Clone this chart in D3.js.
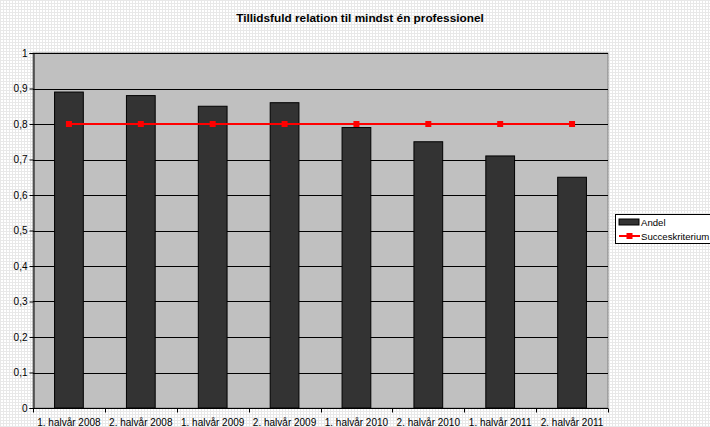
<!DOCTYPE html>
<html><head><meta charset="utf-8">
<script src="https://cdn.jsdelivr.net/npm/d3@7"></script>
<style>body{margin:0;background:#fff}svg{display:block}text{font-family:"Liberation Sans",Arial,sans-serif}</style>
</head><body>
<script>
const categories = ["1. halvår 2008","2. halvår 2008","1. halvår 2009","2. halvår 2009","1. halvår 2010","2. halvår 2010","1. halvår 2011","2. halvår 2011"];
const andel = [0.89,0.88,0.85,0.86,0.79,0.75,0.71,0.65];
const succes = [0.8,0.8,0.8,0.8,0.8,0.8,0.8,0.8];
const yTicks = [0,0.1,0.2,0.3,0.4,0.5,0.6,0.7,0.8,0.9,1];
const yTickLabels = ["0","0,1","0,2","0,3","0,4","0,5","0,6","0,7","0,8","0,9","1"];
const seriesNames = ["Andel","Succeskriterium"];
const title = "Tillidsfuld relation til mindst én professionel";

const W=710,H=427;
const svg=d3.select("body").append("svg").attr("width",W).attr("height",H);
const defs=svg.append("defs");
const pat=defs.append("pattern").attr("id","bg").attr("width",3).attr("height",3).attr("patternUnits","userSpaceOnUse");
pat.append("rect").attr("width",3).attr("height",3).attr("fill","#ffffff");
pat.append("rect").attr("width",3).attr("height",1).attr("fill","#e8e8e8");
pat.append("rect").attr("width",1).attr("height",3).attr("fill","#e8e8e8");
svg.append("rect").attr("width",W).attr("height",H).attr("fill","url(#bg)");

const m={l:33,r:608,t:53,b:408};
const x=d3.scaleBand().domain(categories).range([m.l,m.r]).paddingInner(0.6).paddingOuter(0.3);
const y=d3.scaleLinear().domain([0,1]).range([m.b,m.t]);

svg.append("rect").attr("x",m.l).attr("y",m.t).attr("width",m.r-m.l).attr("height",m.b-m.t)
  .attr("fill","#c0c0c0").attr("stroke","#808080").attr("stroke-width",1);

svg.append("g").selectAll("line").data(yTicks.filter(d=>d>0)).join("line")
  .attr("x1",m.l).attr("x2",m.r).attr("y1",d=>Math.round(y(d))+0.5).attr("y2",d=>Math.round(y(d))+0.5)
  .attr("stroke","#000").attr("stroke-width",1);

svg.append("g").selectAll("rect").data(andel).join("rect")
  .attr("x",(d,i)=>x(categories[i])).attr("width",x.bandwidth())
  .attr("y",d=>y(d)).attr("height",d=>y(0)-y(d))
  .attr("fill","#333333").attr("stroke","#000").attr("stroke-width",1);

const cx=(i)=>x(categories[i])+x.bandwidth()/2;
svg.append("path").datum(succes)
  .attr("d",d3.line().x((d,i)=>cx(i)).y(d=>y(d)))
  .attr("fill","none").attr("stroke","#ff0000").attr("stroke-width",2);
svg.append("g").selectAll("rect").data(succes).join("rect")
  .attr("x",(d,i)=>cx(i)-3).attr("y",d=>y(d)-3).attr("width",6).attr("height",6).attr("fill","#ff0000");

// y axis
const ya=svg.append("g").attr("transform",`translate(${m.l+0.5},0)`)
  .call(d3.axisLeft(y).tickValues(yTicks).tickFormat((d,i)=>yTickLabels[i]).tickSize(4).tickPadding(2));
ya.select(".domain").attr("stroke","#000");
ya.selectAll("text").attr("font-size",10).attr("fill","#000");

// x axis
const xa=svg.append("g").attr("transform",`translate(0,${m.b+0.5})`);
xa.append("line").attr("x1",m.l).attr("x2",m.r).attr("stroke","#000");
const bounds=categories.map((c,i)=>m.l+i*(m.r-m.l)/categories.length).concat([m.r]);
xa.selectAll("line.t").data(bounds).join("line").attr("class","t")
  .attr("x1",d=>Math.round(d)+0.5).attr("x2",d=>Math.round(d)+0.5).attr("y1",0).attr("y2",4).attr("stroke","#000");
xa.selectAll("text").data(categories).join("text")
  .attr("x",(d,i)=>cx(i)).attr("y",17).attr("text-anchor","middle").attr("font-size",10).attr("fill","#000").text(d=>d);

svg.append("text").attr("x",360).attr("y",22).attr("text-anchor","middle").attr("font-size",11.8).attr("font-weight","bold").text(title);

// legend
const lg=svg.append("g");
lg.append("rect").attr("x",615.5).attr("y",214.5).attr("width",110).attr("height",29).attr("fill","#fff").attr("stroke","#000");
lg.append("rect").attr("x",619).attr("y",219).attr("width",20).attr("height",6).attr("fill","#333").attr("stroke","#000");
lg.append("text").attr("x",641).attr("y",226).attr("font-size",9.6).text(seriesNames[0]);
lg.append("line").attr("x1",619).attr("x2",640).attr("y1",236).attr("y2",236).attr("stroke","#ff0000").attr("stroke-width",2);
lg.append("rect").attr("x",626.5).attr("y",233).attr("width",6).attr("height",6).attr("fill","#ff0000");
lg.append("text").attr("x",641).attr("y",240).attr("font-size",9.6).text(seriesNames[1]);
</script>
</body></html>
